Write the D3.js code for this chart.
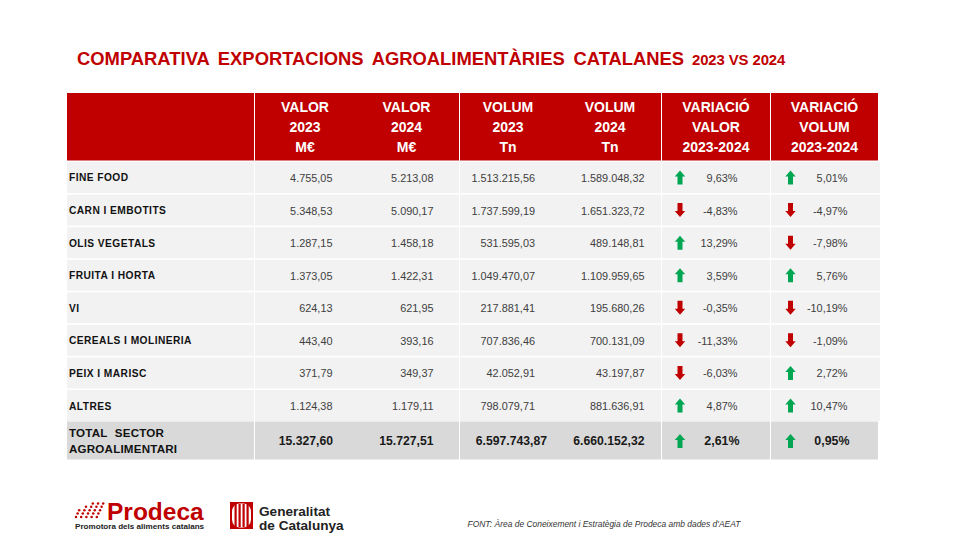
<!DOCTYPE html>
<html>
<head>
<meta charset="utf-8">
<script src="https://cdn.jsdelivr.net/npm/d3@7"></script>
<style>
body { margin: 0; background: #fff; }
text { font-family: "Liberation Sans", Arial, sans-serif; }
</style>
</head>
<body>
<svg id="chart" width="979" height="551"></svg>
<script>
// dades
const categories = ["FINE FOOD", "CARN I EMBOTITS", "OLIS VEGETALS", "FRUITA I HORTA", "VI", "CEREALS I MOLINERIA", "PEIX I MARISC", "ALTRES"];
const valor2023 = [4755.05, 5348.53, 1287.15, 1373.05, 624.13, 443.40, 371.79, 1124.38];
const valor2024 = [5213.08, 5090.17, 1458.18, 1422.31, 621.95, 393.16, 349.37, 1179.11];
const volum2023 = [1513215.56, 1737599.19, 531595.03, 1049470.07, 217881.41, 707836.46, 42052.91, 798079.71];
const volum2024 = [1589048.32, 1651323.72, 489148.81, 1109959.65, 195680.26, 700131.09, 43197.87, 881636.91];
const varValor = [9.63, -4.83, 13.29, 3.59, -0.35, -11.33, -6.03, 4.87];
const varVolum = [5.01, -4.97, -7.98, 5.76, -10.19, -1.09, 2.72, 10.47];

const totalLabel = ["TOTAL SECTOR", "AGROALIMENTARI"];
const totalValues = [15327.60, 15727.51, 6597743.87, 6660152.32];
const totalVar = [2.61, 0.95];

const headers = [
  ["VALOR", "2023", "M€"],
  ["VALOR", "2024", "M€"],
  ["VOLUM", "2023", "Tn"],
  ["VOLUM", "2024", "Tn"],
  ["VARIACIÓ", "VALOR", "2023-2024"],
  ["VARIACIÓ", "VOLUM", "2023-2024"]
];

const svg = d3.select("#chart");
const RED = "#c00000", GREEN = "#00a651";

const cat = d3.formatLocale({ decimal: ",", thousands: ".", grouping: [3], currency: ["", "€"], minus: "-" });
const num = cat.format(",.2f");
const pct = v => num(v) + "%";

// blocs de columnes
const blocks = [[67, 254], [255, 459], [460, 661], [662, 770], [771, 878]];
const y = d3.scaleBand().domain(categories).range([162, 421]).paddingInner(0.05).paddingOuter(0);

// titol
const title = svg.append("text").attr("x", 77).attr("y", 65)
  .attr("fill", RED).attr("font-weight", "bold").attr("font-size", 18.4);
title.append("tspan").attr("word-spacing", 3.6).text("COMPARATIVA EXPORTACIONS AGROALIMENTÀRIES CATALANES");
title.append("tspan").attr("x", 692).attr("y", 65).attr("font-size", 14.9).attr("letter-spacing", -0.1).text("2023 VS 2024");

// capcalera
svg.selectAll("rect.head").data(blocks).join("rect")
  .attr("class", "head")
  .attr("x", d => d[0]).attr("y", 93)
  .attr("width", d => d[1] - d[0]).attr("height", 67.5)
  .attr("fill", RED);

const headCx = [305, 406.5, 508, 610, 716, 824.5];
headers.forEach((lines, i) => {
  svg.selectAll(null).data(lines).join("text")
    .attr("x", headCx[i])
    .attr("y", (d, j) => 111.5 + j * 20.3)
    .attr("text-anchor", "middle")
    .attr("fill", "#fff").attr("font-weight", "bold").attr("font-size", 14)
    .text(d => d);
});

// files
const rows = svg.selectAll("g.row").data(categories).join("g")
  .attr("class", "row")
  .attr("transform", d => `translate(0,${y(d)})`);

blocks.forEach((b, i) => {
  rows.append("rect")
    .attr("x", b[0]).attr("y", 0)
    .attr("width", b[1] - b[0] + (i == 4 ? 2 : 0)).attr("height", y.bandwidth())
    .attr("fill", "#f2f2f2");
});

rows.append("text")
  .attr("x", 69).attr("y", y.bandwidth() / 2 + 4)
  .attr("font-weight", "bold").attr("font-size", 10.2).attr("letter-spacing", 0.45)
  .attr("fill", "#111")
  .text(d => d);

const numRight = [332.5, 433.5, 535, 644.5];
[valor2023, valor2024, volum2023, volum2024].forEach((serie, c) => {
  rows.append("text")
    .attr("x", numRight[c]).attr("y", y.bandwidth() / 2 + 4.5)
    .attr("text-anchor", "end").attr("font-size", 10.9).attr("fill", "#404040")
    .text((d, i) => num(serie[i]));
});

// fletxa amunt / avall
const arrowPath = "M0,-7 L5.2,-1 L2.5,-1 L2.5,7 L-2.5,7 L-2.5,-1 L-5.2,-1 Z";
function arrow(sel, cx, cy, v) {
  sel.append("path")
    .attr("d", arrowPath)
    .attr("transform", `translate(${cx},${cy})` + (v < 0 ? " rotate(180)" : ""))
    .attr("fill", v < 0 ? RED : GREEN);
}

const arrowX = [680, 790.5], pctRight = [737.5, 847.5];
[varValor, varVolum].forEach((serie, c) => {
  rows.each(function (d, i) {
    const g = d3.select(this);
    arrow(g, arrowX[c], y.bandwidth() / 2, serie[i]);
    g.append("text")
      .attr("x", pctRight[c]).attr("y", y.bandwidth() / 2 + 4.5)
      .attr("text-anchor", "end").attr("font-size", 10.9).attr("fill", "#404040")
      .text(pct(serie[i]));
  });
});

// total
const totalTop = 421.5, totalH = 38;
const totalRight = [333, 433.5, 547, 644.5];
svg.selectAll("rect.total").data(blocks).join("rect")
  .attr("class", "total")
  .attr("x", d => d[0]).attr("y", totalTop)
  .attr("width", d => d[1] - d[0]).attr("height", totalH)
  .attr("fill", "#d9d9d9");

svg.selectAll("text.totlab").data(totalLabel).join("text")
  .attr("class", "totlab")
  .attr("x", 69).attr("y", (d, i) => 437 + i * 15.5)
  .attr("font-weight", "bold").attr("font-size", 11.6).attr("letter-spacing", 0.2)
  .attr("word-spacing", 4).attr("fill", "#111")
  .text(d => d);

svg.selectAll("text.totval").data(totalValues).join("text")
  .attr("class", "totval")
  .attr("x", (d, i) => totalRight[i])
  .attr("y", 445)
  .attr("text-anchor", "end").attr("font-weight", "bold").attr("font-size", 12.2).attr("fill", "#1a1a1a")
  .text(d => num(d));

totalVar.forEach((v, i) => {
  arrow(svg, arrowX[i], 441, v);
  svg.append("text")
    .attr("x", pctRight[i] + 2).attr("y", 445)
    .attr("text-anchor", "end").attr("font-weight", "bold").attr("font-size", 12.4).attr("fill", "#1a1a1a")
    .text(pct(v));
});

// peu
svg.append("text").attr("x", 467.5).attr("y", 527)
  .attr("font-size", 8.45).attr("font-style", "italic").attr("fill", "#333")
  .text("FONT:  Àrea de Coneixement i Estratègia de Prodeca amb dades d'AEAT");

// logo Prodeca
const logo = svg.append("g");
d3.range(5).forEach(r => {
  d3.range(5).forEach(c => {
    if (r + c < 2) return;
    logo.append("circle")
      .attr("cx", 76 + c * 5.2 + (4 - r) * 1.6)
      .attr("cy", 517 - (4 - r) * 3.4)
      .attr("r", 1.25)
      .attr("fill", RED);
  });
});
logo.append("text").attr("x", 107).attr("y", 520)
  .attr("font-weight", "bold").attr("font-size", 24.5).attr("fill", RED).text("Prodeca");
logo.append("text").attr("x", 75).attr("y", 529)
  .attr("font-weight", "bold").attr("font-size", 8.1).attr("fill", "#222").text("Promotora dels aliments catalans");

// logo Generalitat
const gene = svg.append("g");
gene.append("rect").attr("x", 230).attr("y", 502).attr("width", 23).attr("height", 27).attr("fill", RED);
gene.append("rect").attr("x", 232).attr("y", 503.5).attr("width", 19).attr("height", 24).attr("rx", 8).attr("fill", "#fff");
d3.range(4).forEach(i => {
  gene.append("rect").attr("x", 234.5 + i * 4).attr("y", 504).attr("width", 2.2).attr("height", 23).attr("fill", RED);
});
gene.append("text").attr("x", 259).attr("y", 515.5)
  .attr("font-weight", "bold").attr("font-size", 13.6).attr("fill", "#222").text("Generalitat");
gene.append("text").attr("x", 259).attr("y", 529.5)
  .attr("font-weight", "bold").attr("font-size", 13.6).attr("fill", "#222").text("de Catalunya");
</script>
</body>
</html>
